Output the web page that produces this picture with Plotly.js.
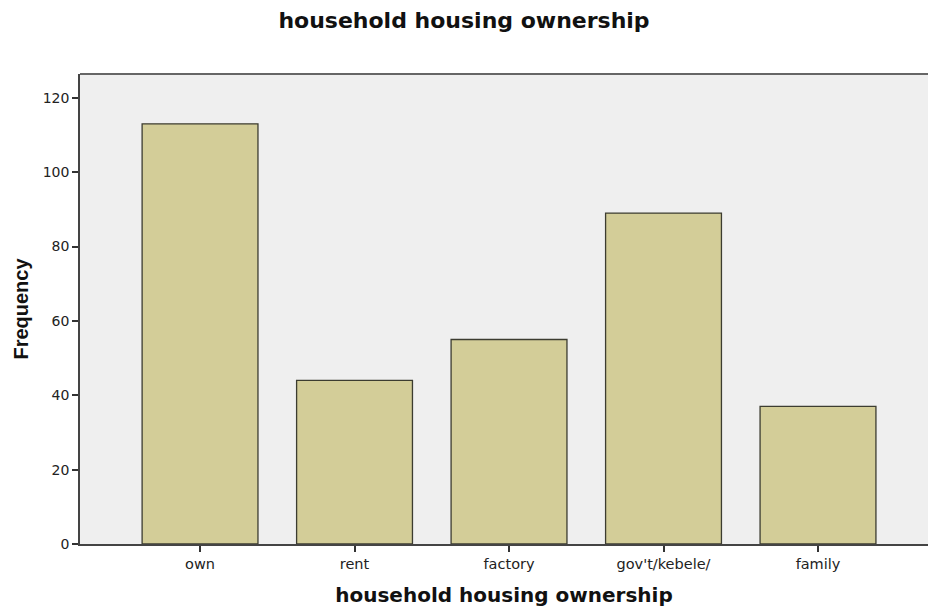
<!DOCTYPE html>
<html><head><meta charset="utf-8">
<script src="https://cdn.plot.ly/plotly-3.0.1.min.js"></script>
<style>html,body{margin:0;padding:0;background:#fff}</style>
</head><body><div id="chart" style="width:928px;height:608px"></div>
<script>
const categories = ["own", "rent", "factory", "gov't/kebele/", "family"];
const frequency = [113, 44, 55, 89, 37];

const F = 'DejaVu Sans, Verdana, sans-serif';
Plotly.newPlot('chart', [{
  type: 'bar', x: categories, y: frequency, width: 0.75,
  marker: {color: '#d3cd98', line: {color: '#3c3c30', width: 1.3}},
  hoverinfo: 'x+y'
}], {
  width: 928, height: 608,
  margin: {l: 80, r: 0, t: 74, b: 64},
  paper_bgcolor: '#ffffff', plot_bgcolor: '#efefef',
  font: {family: F, color: '#222'},
  title: {text: 'household housing ownership', x: 0.5, xanchor: 'center', y: 0.967, yanchor: 'middle',
    font: {size: 22, family: F, color: '#111', weight: 'bold'}},
  xaxis: {
    range: [-0.777, 4.712], showgrid: false, zeroline: false,
    showline: true, linecolor: '#444', linewidth: 1.5, mirror: false,
    ticks: 'outside', ticklen: 6, tickcolor: '#333', tickwidth: 1.5,
    tickfont: {size: 14.5, color: '#222'},
    title: {text: 'household housing ownership', standoff: 17,
      font: {size: 20, color: '#111', weight: 'bold'}}
  },
  yaxis: {
    range: [0, 126.4], dtick: 20, showgrid: false, zeroline: false,
    showline: true, linecolor: '#444', linewidth: 1.5,
    ticks: 'outside', ticklen: 6, tickcolor: '#333', tickwidth: 1.5,
    tickfont: {size: 14, color: '#222'},
    title: {text: 'Frequency', standoff: 9,
      font: {size: 20, color: '#111', family: 'Liberation Sans Narrow, Liberation Sans, Arial, sans-serif', weight: 'bold'}}
  },
  shapes: [{type: 'line', xref: 'paper', yref: 'paper', x0: 0, x1: 1, y0: 1, y1: 1,
    line: {color: '#666', width: 2}}],
  showlegend: false
}, {displayModeBar: false});
</script></body></html>
